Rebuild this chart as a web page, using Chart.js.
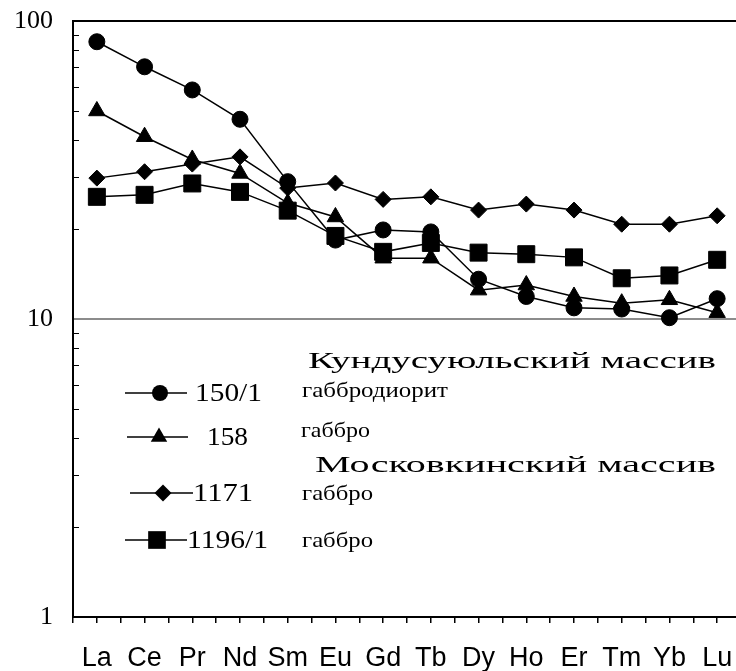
<!DOCTYPE html>
<html>
<head>
<meta charset="utf-8">
<script src="https://cdn.jsdelivr.net/npm/chart.js@4.4.0/dist/chart.umd.min.js"></script>
<style>
  html, body { margin: 0; padding: 0; background: #fff; }
  #wrap { width: 736px; height: 671px; overflow: hidden; }
  canvas { display: block; }
</style>
</head>
<body>
<div id="wrap"><canvas id="myChart" width="754" height="671"></canvas></div>
<script>
  // REE spidergram, chondrite-normalised, log scale
  const elements = ['La', 'Ce', 'Pr', 'Nd', 'Sm', 'Eu', 'Gd', 'Tb', 'Dy', 'Ho', 'Er', 'Tm', 'Yb', 'Lu'];

  const s150_1 = [85.2, 70.2, 58.7, 46.8, 28.9, 18.4, 19.9, 19.6, 13.6, 11.9, 10.9, 10.8, 10.1, 11.7];
  const s158   = [49.9, 40.9, 34.3, 30.8, 24.5, 22.0, 16.0, 16.0, 12.5, 13.0, 11.9, 11.3, 11.6, 10.5];
  const s1171  = [29.7, 31.2, 33.1, 35.0, 27.5, 28.6, 25.2, 25.7, 23.2, 24.3, 23.2, 20.8, 20.8, 22.2];
  const s1196_1 = [25.7, 26.1, 28.5, 26.7, 23.1, 19.0, 16.8, 18.0, 16.7, 16.5, 16.1, 13.7, 14.0, 15.8];

  const sampleNames = ['150/1', '158', '1171', '1196/1'];
  const rockTypes = ['габбродиорит', 'габбро', 'габбро', 'габбро'];
  const massifs = ['Кундусуюльский массив', 'Московкинский массив'];
  const yTickValues = [1, 10, 100];

  const toPoints = arr => arr.map((v, i) => ({ x: i, y: v }));

  function series(label, values, style, radius) {
    return {
      label: label,
      data: toPoints(values),
      borderColor: '#000',
      backgroundColor: '#000',
      borderWidth: 1.5,
      pointStyle: style,
      pointRadius: radius,
      pointBorderWidth: 1,
      pointBackgroundColor: '#000',
      pointBorderColor: '#000',
      tension: 0
    };
  }

  // marker shapes for the hand-made legend (same geometry as chart.js)
  function marker(ctx, style, r, x, y) {
    ctx.beginPath();
    if (style === 'circle') {
      ctx.arc(x, y, r, 0, Math.PI * 2);
    } else if (style === 'triangle') {
      ctx.moveTo(x, y - r);
      ctx.lineTo(x + r * Math.sin(Math.PI / 3), y + r / 2);
      ctx.lineTo(x - r * Math.sin(Math.PI / 3), y + r / 2);
    } else if (style === 'rectRot') {
      ctx.moveTo(x - r, y); ctx.lineTo(x, y - r);
      ctx.lineTo(x + r, y); ctx.lineTo(x, y + r);
    } else {
      const h = r * Math.SQRT1_2;
      ctx.rect(x - h, y - h, 2 * h, 2 * h);
    }
    ctx.closePath();
    ctx.fill();
  }

  function stretchText(ctx, text, x, y, font, width) {
    ctx.font = font;
    const w = ctx.measureText(text).width;
    ctx.save();
    ctx.translate(x, y);
    ctx.scale(width / w, 1);
    ctx.textAlign = 'left';
    ctx.textBaseline = 'middle';
    ctx.fillText(text, 0, 0);
    ctx.restore();
  }

  const legendRows = [
    { style: 'circle',   r: 8,   x1: 125, x2: 187, mx: 160, y: 393, lx: 195, lw: 67, dx: 302, dw: 146, dy: 391 },
    { style: 'triangle', r: 9.5, x1: 127, x2: 188, mx: 159, y: 437, lx: 207, lw: 41, dx: 301, dw: 69,  dy: 431 },
    { style: 'rectRot',  r: 8.5, x1: 130, x2: 193, mx: 163, y: 493, lx: 193, lw: 60, dx: 302, dw: 71,  dy: 494 },
    { style: 'rect',     r: 12.5, x1: 125, x2: 187, mx: 157, y: 540, lx: 187, lw: 81, dx: 302, dw: 71,  dy: 541 }
  ];

  const framePlugin = {
    id: 'framePlugin',
    afterDraw(chart) {
      const ctx = chart.ctx;
      const a = chart.chartArea;
      const ys = chart.scales.y;
      ctx.save();
      ctx.strokeStyle = '#000';
      ctx.fillStyle = '#000';
      // top frame line
      ctx.lineWidth = 2;
      ctx.beginPath();
      ctx.moveTo(a.left - 1, a.top);
      ctx.lineTo(a.right, a.top);
      ctx.stroke();
      // minor log ticks, pointing inward
      ctx.lineWidth = 1;
      for (let d = 1; d < 100; d *= 10) {
        for (let k = 2; k <= 9; k++) {
          const y = Math.round(ys.getPixelForValue(k * d)) + 0.5;
          ctx.beginPath();
          ctx.moveTo(a.left, y);
          ctx.lineTo(a.left + 6, y);
          ctx.stroke();
        }
      }
      // legend
      stretchText(ctx, massifs[0], 308, 362, '24px "Liberation Serif"', 408);
      stretchText(ctx, massifs[1], 315, 466, '24px "Liberation Serif"', 401);
      legendRows.forEach((row, i) => {
        ctx.lineWidth = 1.5;
        ctx.beginPath();
        ctx.moveTo(row.x1, row.y);
        ctx.lineTo(row.x2, row.y);
        ctx.stroke();
        marker(ctx, row.style, row.r, row.mx, row.y);
        stretchText(ctx, sampleNames[i], row.lx, row.y + 1, '26px "Liberation Serif"', row.lw);
        stretchText(ctx, rockTypes[i], row.dx, row.dy, '21px "Liberation Serif"', row.dw);
      });
      ctx.restore();
    }
  };

  const data = {
    datasets: [
      series(sampleNames[0], s150_1, 'circle', 8),
      series(sampleNames[1], s158, 'triangle', 9.5),
      series(sampleNames[2], s1171, 'rectRot', 8),
      series(sampleNames[3], s1196_1, 'rect', 12)
    ]
  };

  const config = {
    type: 'line',
    data: data,
    options: {
      responsive: false,
      animation: false,
      devicePixelRatio: 1,
      layout: { padding: { top: 21, right: 2, left: 0, bottom: 0 } },
      plugins: { legend: { display: false }, tooltip: { enabled: false } },
      scales: {
        x: {
          type: 'linear',
          min: -0.5,
          max: 13.5,
          afterBuildTicks: s => {
            s.ticks = [];
            for (let v = -0.5; v <= 13.5; v += 0.5) s.ticks.push({ value: v });
          },
          afterFit: s => {
            s.height = 54;
            s.paddingLeft = 0;
            s.paddingRight = 0;
          },
          ticks: {
            autoSkip: false,
            maxRotation: 0,
            padding: 19,
            color: '#000',
            font: { family: 'Liberation Sans', size: 27 },
            callback: v => Number.isInteger(v) ? elements[v] : ''
          },
          grid: { drawOnChartArea: false, tickLength: 6, tickColor: '#000', lineWidth: 1.5 },
          border: { color: '#000', width: 2 }
        },
        y: {
          type: 'logarithmic',
          min: 1,
          max: 100,
          afterBuildTicks: s => { s.ticks = yTickValues.map(v => ({ value: v })); },
          afterFit: s => {
            s.width = 73;
            s.paddingTop = 0;
            s.paddingBottom = 0;
          },
          ticks: {
            padding: 20,
            color: '#000',
            font: { family: 'Liberation Serif', size: 26 },
            callback: v => String(v)
          },
          grid: {
            drawTicks: false,
            lineWidth: 2,
            color: c => (c.tick && c.tick.value === 10) ? '#8c8c8c' : 'rgba(0,0,0,0)'
          },
          border: { color: '#000', width: 2 }
        }
      }
    },
    plugins: [framePlugin]
  };

  const myChart = new Chart(document.getElementById('myChart'), config);
</script>
</body>
</html>
